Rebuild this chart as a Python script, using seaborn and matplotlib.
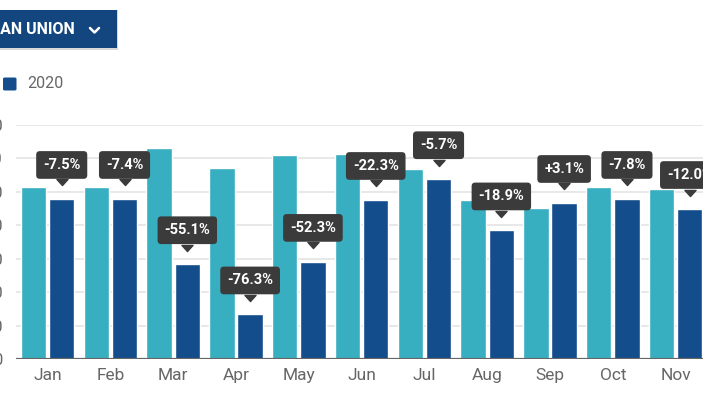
import numpy as np
import pandas as pd
import matplotlib
matplotlib.use("Agg")
import matplotlib.pyplot as plt
import matplotlib.transforms as mtransforms
from matplotlib.patches import Rectangle, FancyBboxPatch
from matplotlib.path import Path
import seaborn as sns

# ---- data (y units = gridline steps of 10) ----
months = ["Jan", "Feb", "Mar", "Apr", "May", "Jun", "Jul", "Aug", "Sep", "Oct", "Nov"]
values_2019 = [51.5, 51.5, 63.2, 57.2, 61.0, 61.4, 56.8, 47.6, 45.3, 51.6, 50.8]
values_2020 = [47.9, 47.9, 28.4, 13.4, 29.1, 47.6, 53.8, 38.5, 46.7, 47.9, 44.9]
change_labels = ["-7.5%", "-7.4%", "-55.1%", "-76.3%", "-52.3%", "-22.3%",
                 "-5.7%", "-18.9%", "+3.1%", "-7.8%", "-12.0%"]
years = ["2019", "2020"]
yticks = [0, 10, 20, 30, 40, 50, 60, 70]
button_text = "EUROPEAN UNION"

TEAL = "#38aec1"
DARK = "#134d8c"
BOX = "#3b3b3b"
GRAY = "#666666"

df = pd.DataFrame({
    "month": months * 2,
    "year": [years[0]] * len(months) + [years[1]] * len(months),
    "value": values_2019 + values_2020,
})

sns.set_style("white")
plt.rcParams["font.family"] = ["Roboto", "DejaVu Sans"]

W, H = 703, 395
fig = plt.figure(figsize=(W / 100, H / 100), dpi=100)
left_px, bottom_px, top_px = 16, 359.3, 125
ax = fig.add_axes([left_px / W, 1 - bottom_px / H, 1 - left_px / W,
                   (bottom_px - top_px) / H])

sns.barplot(data=df, x="month", y="value", hue="year", order=months,
            hue_order=years, palette=[TEAL, DARK], width=0.9, gap=0.1,
            saturation=1, legend=False, ax=ax, zorder=3)

ax.set_xlim(-0.503, 10.436)
ax.set_ylim(0, 70)
ax.set_yticks(yticks)
ax.set_yticklabels([str(t) for t in yticks])
ax.set_xlabel("")
ax.set_ylabel("")
for s in ax.spines.values():
    s.set_visible(False)
ax.grid(axis="y", color="#e6e6e6", lw=1.3, zorder=0)
ax.grid(axis="x", visible=False)
ax.axhline(0, color="#666666", lw=1.6, zorder=4)
ax.tick_params(axis="x", length=0, pad=6, labelsize=12.5, labelcolor=GRAY)
ax.tick_params(axis="y", length=0, pad=9.4, labelsize=12, labelcolor=GRAY)

# ---- value-change callouts above 2020 bars ----
tri = Path([(-1, 0.55), (1, 0.55), (0, -0.55), (-1, 0.55)],
           [Path.MOVETO, Path.LINETO, Path.LINETO, Path.CLOSEPOLY])
trans = mtransforms.offset_copy(ax.transData, fig=fig, x=0, y=16.5, units="dots")
bars = ax.containers[1]
xs = [b.get_x() + b.get_width() / 2 for b in bars]
hs = [b.get_height() for b in bars]
for x, h, lab in zip(xs, hs, change_labels):
    ax.annotate(lab, xy=(x, h), xytext=(0, 34), textcoords="offset pixels",
                ha="center", va="center", color="white", fontsize=10.5,
                fontweight="bold", annotation_clip=False, zorder=6,
                bbox=dict(boxstyle="round,pad=0.47,rounding_size=0.25",
                          fc=BOX, ec="none"))
ax.plot(xs, hs, ls="", marker=tri, ms=8, color=BOX, transform=trans,
        clip_on=False, zorder=6)

# ---- dropdown button (cropped) ----
fig.patches.append(Rectangle((0, 1 - 50 / H), 118 / W, 40 / H,
                             transform=fig.transFigure, fc="#d9d9d9",
                             ec="none", zorder=1))
fig.patches.append(Rectangle((0, 1 - 48 / H), 117 / W, 38 / H,
                             transform=fig.transFigure, fc="#13467e",
                             ec="none", zorder=2))
fig.text(75 / W, 1 - 29 / H, button_text, ha="right", va="center",
         color="white", fontsize=11.5, fontweight="bold", zorder=3)
fig.lines.append(plt.Line2D([90 / W, 94.5 / W, 99 / W],
                            [1 - 28 / H, 1 - 32.5 / H, 1 - 28 / H],
                            transform=fig.transFigure, color="white",
                            lw=1.8, solid_capstyle="round", zorder=3))

# ---- legend (only the 2020 entry is inside the crop) ----
fig.patches.append(FancyBboxPatch((3 / W, 1 - 90.5 / H), 13.5 / W, 13 / H,
                                  boxstyle="round,pad=0,rounding_size=0.003",
                                  transform=fig.transFigure, fc=DARK,
                                  ec="none"))
fig.text(27 / W, 1 - 83 / H, years[1], ha="left", va="center",
         color=GRAY, fontsize=11.5)

fig.savefig("out.png", dpi=100)
